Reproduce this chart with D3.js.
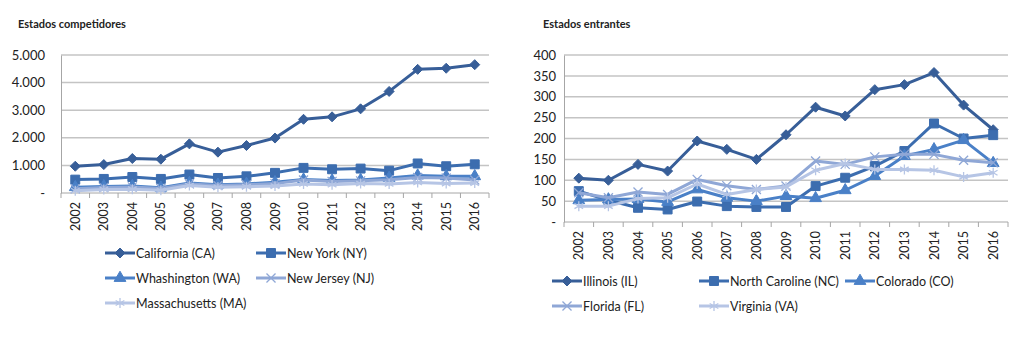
<!DOCTYPE html>
<html>
<head>
<meta charset="utf-8">
<script src="https://cdn.jsdelivr.net/npm/d3@7/dist/d3.min.js"></script>
<style>
  body { margin: 0; background: #fff; }
  text { font-family: Lato, "Open Sans", sans-serif; fill: #222; }
</style>
</head>
<body>
<svg id="chart" width="1024" height="353"></svg>
<script>
// Categories
const years = ["2002","2003","2004","2005","2006","2007","2008","2009","2010","2011","2012","2013","2014","2015","2016"];

// Left chart: competing states
const competitorNames = ["California (CA)", "New York (NY)", "Whashington (WA)", "New Jersey (NJ)", "Massachusetts (MA)"];
const californiaCA   = [970, 1030, 1250, 1225, 1780, 1480, 1720, 1990, 2670, 2760, 3050, 3680, 4480, 4520, 4650];
const newYorkNY      = [485, 510, 580, 510, 670, 545, 605, 730, 910, 860, 885, 810, 1070, 970, 1040];
const washingtonWA   = [210, 240, 250, 190, 360, 300, 330, 390, 485, 450, 470, 545, 630, 605, 605];
const newJerseyNJ    = [150, 200, 220, 160, 330, 270, 300, 340, 470, 420, 440, 480, 560, 540, 470];
const massachusettsMA= [80, 130, 140, 100, 270, 210, 230, 250, 330, 300, 340, 330, 380, 340, 360];
const competitorTicks = [0, 1000, 2000, 3000, 4000, 5000];
const competitorTickLabels = ["-", "1.000", "2.000", "3.000", "4.000", "5.000"];

// Right chart: entering states
const entrantNames = ["Illinois (IL)", "North Caroline (NC)", "Colorado (CO)", "Florida (FL)", "Virginia (VA)"];
const illinoisIL       = [105, 100, 138, 122, 194, 174, 150, 209, 275, 254, 317, 329, 358, 280, 221];
const northCarolineNC  = [74, 52, 34, 30, 49, 38, 36, 36, 86, 106, 134, 170, 236, 200, 208];
const coloradoCO       = [52, 54, 55, 48, 78, 58, 50, 62, 57, 76, 110, 158, 174, 196, 141];
const floridaFL        = [70, 58, 72, 66, 102, 87, 78, 86, 146, 138, 156, 162, 162, 148, 142];
const virginiaVA       = [38, 38, 56, 58, 91, 66, 78, 84, 124, 140, 126, 126, 124, 108, 118];
const entrantTicks = [0, 50, 100, 150, 200, 250, 300, 350, 400];
const entrantTickLabels = ["-", "50", "100", "150", "200", "250", "300", "350", "400"];

// Excel-style square diamond (d3's own diamond is tall and narrow)
const squareDiamond = {
  draw(ctx, size) {
    const r = Math.sqrt(size / 2);
    ctx.moveTo(0, -r); ctx.lineTo(r, 0); ctx.lineTo(0, r); ctx.lineTo(-r, 0); ctx.closePath();
  }
};

// Styles per series position
const colors = ["#375E98", "#3C6DAF", "#4A80C7", "#8FA7D6", "#B6C5E5"];
const shapes = [squareDiamond, d3.symbolSquare, d3.symbolTriangle, d3.symbolX, d3.symbolAsterisk];
const shapeSize = [50, 80, 60, 55, 70];

const svg = d3.select("#chart");

function drawChart(opt) {
  const g = svg.append("g");

  const x = d3.scaleBand().domain(years).range([opt.left, opt.right]);
  const y = d3.scaleLinear().domain([0, opt.max]).range([opt.bottom, opt.top]);

  // Title
  g.append("text")
    .attr("x", opt.titleX).attr("y", 28)
    .attr("font-size", 11).attr("font-weight", "bold")
    .text(opt.title);

  // Gridlines
  g.selectAll(".grid")
    .data(opt.ticks.slice(1))
    .enter().append("line")
    .attr("x1", opt.left).attr("x2", opt.right)
    .attr("y1", d => y(d)).attr("y2", d => y(d))
    .attr("stroke", "#c4c4c4").attr("stroke-width", 1.5);

  // Y axis
  const yAxis = d3.axisLeft(y)
    .tickValues(opt.ticks)
    .tickSize(0)
    .tickPadding(opt.pad)
    .tickFormat((d, i) => opt.tickLabels[i]);
  const ya = g.append("g").attr("transform", `translate(${opt.left},0)`).call(yAxis);
  ya.select(".domain").attr("stroke", "#a6a6a6");
  ya.selectAll("text").attr("font-size", 13);

  // X axis: ticks on category boundaries
  const xa = g.append("g").attr("transform", `translate(0,${opt.bottom})`);
  xa.append("line")
    .attr("x1", opt.left).attr("x2", opt.right)
    .attr("stroke", "#a6a6a6");
  xa.selectAll(".tk")
    .data(years.concat(["end"]))
    .enter().append("line")
    .attr("x1", (d, i) => opt.left + i * x.bandwidth())
    .attr("x2", (d, i) => opt.left + i * x.bandwidth())
    .attr("y1", 0).attr("y2", 5)
    .attr("stroke", "#a6a6a6");
  xa.selectAll(".yl")
    .data(years)
    .enter().append("text")
    .attr("transform", d => `translate(${x(d) + x.bandwidth() / 2 + 4.5},9) rotate(-90)`)
    .attr("text-anchor", "end")
    .attr("font-size", 12.5)
    .text(d => d);

  // Lines and markers
  const line = d3.line()
    .x((d, i) => x(years[i]) + x.bandwidth() / 2)
    .y(d => y(d));

  opt.series.forEach((s, k) => {
    g.append("path")
      .datum(s)
      .attr("d", line)
      .attr("fill", "none")
      .attr("stroke", colors[k])
      .attr("stroke-width", 3)
      .attr("stroke-linejoin", "round");
    const filled = k < 3;
    g.selectAll(".m" + k)
      .data(s)
      .enter().append("path")
      .attr("transform", (d, i) => `translate(${x(years[i]) + x.bandwidth() / 2},${y(d)})`)
      .attr("d", d3.symbol().type(shapes[k]).size(shapeSize[k]))
      .attr("fill", filled ? colors[k] : "none")
      .attr("stroke", colors[k])
      .attr("stroke-width", filled ? 1 : 1.3);
  });

  // Legend
  opt.names.forEach((name, k) => {
    const pos = opt.legendPos[k];
    const lg = g.append("g").attr("transform", `translate(${pos[0]},${pos[1]})`);
    lg.append("line")
      .attr("x1", 0).attr("x2", 30)
      .attr("stroke", colors[k]).attr("stroke-width", 3);
    const filled = k < 3;
    lg.append("path")
      .attr("transform", "translate(15,0)")
      .attr("d", d3.symbol().type(shapes[k]).size(shapeSize[k]))
      .attr("fill", filled ? colors[k] : "none")
      .attr("stroke", colors[k])
      .attr("stroke-width", filled ? 1 : 1.3);
    lg.append("text")
      .attr("x", 31).attr("y", 4.5)
      .attr("font-size", 12.5)
      .text(name);
  });
}

drawChart({
  title: "Estados competidores", titleX: 18,
  left: 61, right: 489, top: 55, bottom: 193, max: 5000, pad: 16,
  ticks: competitorTicks, tickLabels: competitorTickLabels,
  names: competitorNames,
  series: [californiaCA, newYorkNY, washingtonWA, newJerseyNJ, massachusettsMA],
  legendPos: [[105, 253], [256, 253], [105, 278], [256, 278], [105, 303]]
});

drawChart({
  title: "Estados entrantes", titleX: 543,
  left: 564, right: 1008, top: 55, bottom: 222, max: 400, pad: 8,
  ticks: entrantTicks, tickLabels: entrantTickLabels,
  names: entrantNames,
  series: [illinoisIL, northCarolineNC, coloradoCO, floridaFL, virginiaVA],
  legendPos: [[552, 281], [699, 281], [845, 281], [552, 306], [699, 306]]
});
</script>
</body>
</html>
